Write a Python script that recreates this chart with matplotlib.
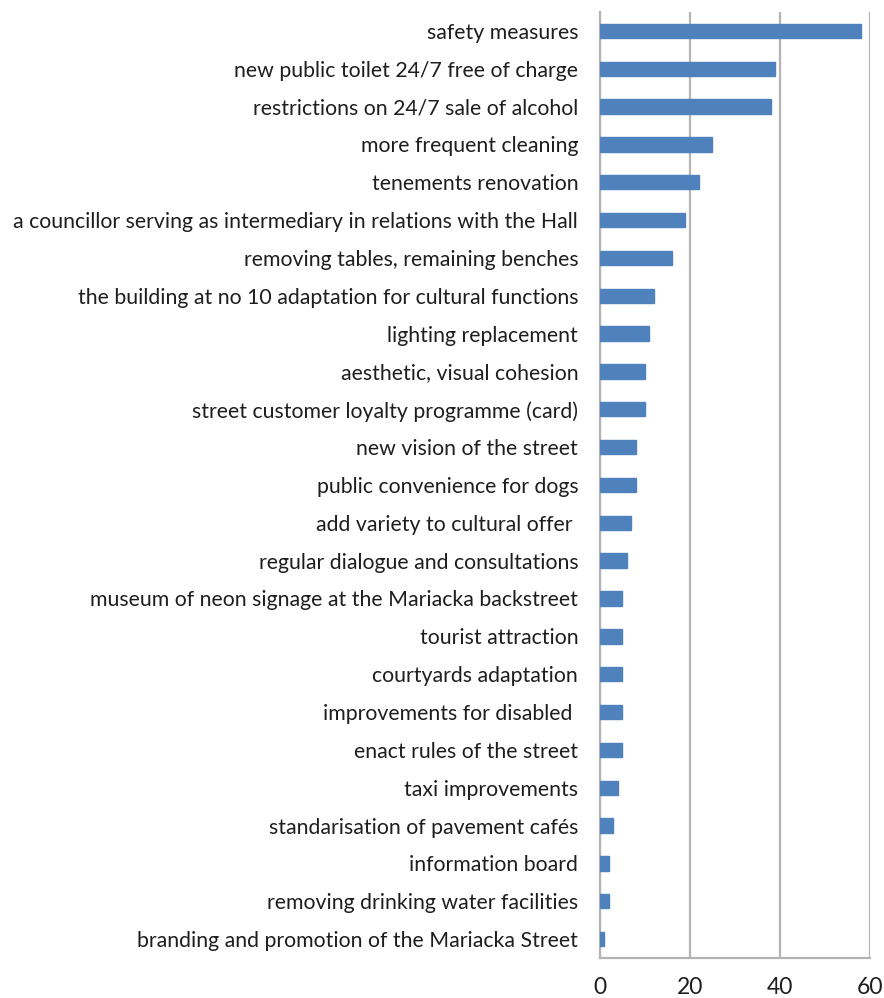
import matplotlib
matplotlib.use("Agg")
import matplotlib.pyplot as plt

categories = [
    "safety measures",
    "new public toilet 24/7 free of charge",
    "restrictions on 24/7 sale of alcohol",
    "more frequent cleaning",
    "tenements renovation",
    "a councillor serving as intermediary in relations with the Hall",
    "removing tables, remaining benches",
    "the building at no 10 adaptation for cultural functions",
    "lighting replacement",
    "aesthetic, visual cohesion",
    "street customer loyalty programme (card)",
    "new vision of the street",
    "public convenience for dogs",
    "add variety to cultural offer ",
    "regular dialogue and consultations",
    "museum of neon signage at the Mariacka backstreet",
    "tourist attraction",
    "courtyards adaptation",
    "improvements for disabled ",
    "enact rules of the street",
    "taxi improvements",
    "standarisation of pavement cafés",
    "information board",
    "removing drinking water facilities",
    "branding and promotion of the Mariacka Street",
]
values = [58, 39, 38, 25, 22, 19, 16, 12, 11, 10, 10, 8, 8, 7, 6,
          5, 5, 5, 5, 5, 4, 3, 2, 2, 1]
x_ticks = [0, 20, 40, 60]

plt.rcParams['font.family'] = ['Lato', 'DejaVu Sans']

fig = plt.figure(figsize=(8.84, 9.98), dpi=100)
ax = fig.add_axes([0.6784, 0.0401, 0.9842 - 0.6784, 0.988 - 0.0401])

pos = list(range(len(categories)))
ax.barh(pos, values, height=0.38, color="#4F81BD", edgecolor="#4F81BD", zorder=3)
ax.set_ylim(len(categories) - 0.5, -0.5)
ax.set_xlim(0, 60)
ax.set_xticks(x_ticks)
ax.set_yticks(pos)
ax.set_yticklabels(categories, fontsize=15.3, color="#1e1e1e")
ax.tick_params(axis='y', length=0, pad=15.5)
ax.tick_params(axis='x', length=0, pad=14, labelsize=16.5, labelcolor="#1e1e1e")

ax.grid(axis='x', color="#B4B4B4", linewidth=1.6, zorder=0)
for side in ("top", "right"):
    ax.spines[side].set_visible(False)
for side in ("left", "bottom"):
    ax.spines[side].set_color("#B4B4B4")
    ax.spines[side].set_linewidth(1.6)

fig.savefig("out.png", dpi=100)
